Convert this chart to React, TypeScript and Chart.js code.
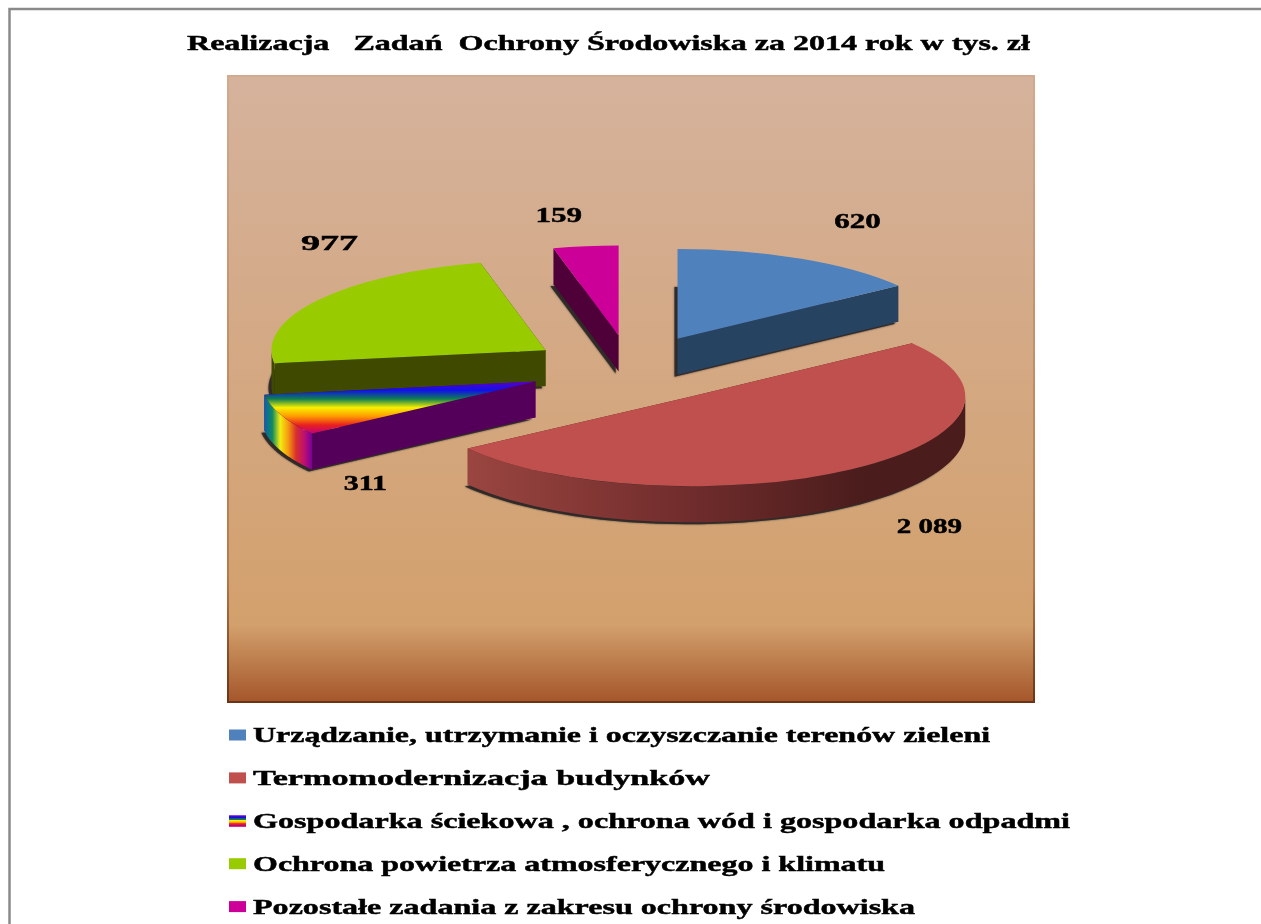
import React, { useEffect, useRef } from "react";
import { Chart, registerables } from "chart.js";

Chart.register(...registerables);

const titleText = "Realizacja   Zadań  Ochrony Środowiska za 2014 rok w tys. zł";
const categories = [
  "Urządzanie, utrzymanie i oczyszczanie terenów zieleni",
  "Termomodernizacja budynków",
  "Gospodarka ściekowa , ochrona wód i gospodarka odpadmi",
  "Ochrona powietrza atmosferycznego i klimatu",
  "Pozostałe zadania z zakresu ochrony środowiska",
];
const values = [620, 2089, 311, 977, 159];
const valueLabels = ["620", "2 089", "311", "977", "159"];
const topColors = ["#4f81bd", "#c0504d", "rainbow", "#99cc00", "#cc0099"];
const sideColors = ["#274362", "#5a2220", "#54005a", "#3f4a00", "#4f0038"];
const rainbowStops = ["#5a00c8", "#1010e8", "#0f7f50", "#f8f000", "#ff9a00", "#e8201e", "#c0007a"];

const FONT = '"Liberation Serif", serif';
const PIE_RADIUS = 274;
const SQUASH = 0.328;
const EXPLODE = 103;
const DEPTH = 36;
const PIE_CX = 631;
const PIE_CY = 369;
const DRAW_ORDER = [4, 0, 3, 2, 1];
const LABEL_NUDGE = [[180, -118], [238, 130], [-170, 101], [-216, -107], [-60, -120]];
const LABEL_STRETCH = [1.55, 1.45, 1.5, 1.9, 1.55];
const LEGEND_WIDTHS = [737, 457, 817, 632, 662];

const apexOf = (arc: any) => {
  const mid = (arc.startAngle + arc.endAngle) / 2;
  return { x: PIE_CX + Math.cos(mid) * EXPLODE, y: PIE_CY + Math.sin(mid) * EXPLODE * SQUASH, mid };
};
const edge = (apex: any, a: number, dy = 0) => ({
  x: apex.x + Math.cos(a) * PIE_RADIUS,
  y: apex.y + Math.sin(a) * PIE_RADIUS * SQUASH + dy,
});

function slicePath(ctx: CanvasRenderingContext2D, apex: any, a0: number, a1: number, dx: number, dy: number) {
  ctx.beginPath();
  ctx.moveTo(apex.x + dx, apex.y + dy);
  for (let i = 0; i <= 60; i++) {
    const p = edge(apex, a0 + ((a1 - a0) * i) / 60, dy);
    ctx.lineTo(p.x + dx, p.y);
  }
  ctx.closePath();
}

function drawWalls(ctx: CanvasRenderingContext2D, arc: any, i: number) {
  const apex = apexOf(arc);
  const a0 = arc.startAngle;
  const a1 = arc.endAngle;
  // contact shadow
  ctx.save();
  ctx.shadowColor = "rgba(20,20,20,0.85)";
  ctx.shadowBlur = 2;
  ctx.fillStyle = "rgba(45,40,40,0.9)";
  slicePath(ctx, apex, a0, a1, -3, DEPTH + 2);
  ctx.fill();
  ctx.restore();
  // radial side faces
  ctx.fillStyle = sideColors[i];
  [a0, a1].forEach((a) => {
    const p = edge(apex, a);
    ctx.beginPath();
    ctx.moveTo(apex.x, apex.y);
    ctx.lineTo(p.x, p.y);
    ctx.lineTo(p.x, p.y + DEPTH);
    ctx.lineTo(apex.x, apex.y + DEPTH);
    ctx.closePath();
    ctx.fill();
  });
  // curved outer wall
  const lo = Math.max(a0, 0);
  const hi = Math.min(a1, Math.PI);
  if (hi > lo) {
    const left = edge(apex, hi).x;
    const right = edge(apex, lo).x;
    const g = ctx.createLinearGradient(left, 0, right, 0);
    if (i === 2) {
      ["#0b5fb0", "#0f8a60", "#f4ee10", "#f59a10", "#d8302a", "#c01070", "#7a009a"].forEach((c, n) =>
        g.addColorStop(n / 6, c)
      );
    } else if (i === 1) {
      g.addColorStop(0, "#9a4540");
      g.addColorStop(0.45, "#702c2c");
      g.addColorStop(0.8, "#4a1c1c");
      g.addColorStop(1, "#4a1c1c");
    } else {
      g.addColorStop(0, sideColors[i]);
      g.addColorStop(1, sideColors[i]);
    }
    ctx.fillStyle = g;
    ctx.beginPath();
    for (let n = 0; n <= 80; n++) {
      const p = edge(apex, lo + ((hi - lo) * n) / 80);
      if (n === 0) ctx.moveTo(p.x, p.y);
      else ctx.lineTo(p.x, p.y);
    }
    for (let n = 80; n >= 0; n--) {
      const p = edge(apex, lo + ((hi - lo) * n) / 80, DEPTH);
      ctx.lineTo(p.x, p.y);
    }
    ctx.closePath();
    ctx.fill();
  }
}

function stretchedText(ctx: CanvasRenderingContext2D, text: string, x: number, y: number, sx: number, align: string) {
  ctx.save();
  ctx.translate(x, y);
  ctx.scale(sx, 1);
  ctx.textAlign = align as CanvasTextAlign;
  ctx.textBaseline = "alphabetic";
  ctx.strokeStyle = "#000000";
  ctx.lineWidth = 0.45;
  ctx.fillText(text, 0, 0);
  ctx.strokeText(text, 0, 0);
  ctx.restore();
}

const backdrop = {
  id: "backdrop",
  beforeDraw(chart: any) {
    const { ctx, chartArea: a, width, height } = chart;
    ctx.save();
    ctx.fillStyle = "#ffffff";
    ctx.fillRect(0, 0, width, height);
    ctx.strokeStyle = "#8a8a8a";
    ctx.lineWidth = 2.5;
    ctx.beginPath();
    ctx.moveTo(9.5, height + 5);
    ctx.lineTo(9.5, 9);
    ctx.lineTo(width + 5, 9);
    ctx.stroke();
    const h = a.bottom - a.top;
    const g = ctx.createLinearGradient(0, a.top, 0, a.bottom);
    g.addColorStop(0, "#d5b29c");
    g.addColorStop((625 - a.top) / h, "#d2a06c");
    g.addColorStop(1, "#a5562a");
    ctx.fillStyle = g;
    ctx.fillRect(a.left, a.top, a.right - a.left, h);
    const b = ctx.createLinearGradient(0, a.top, 0, a.bottom);
    b.addColorStop(0, "#d2aa90");
    b.addColorStop(0.8, "#b8784a");
    b.addColorStop(1, "#6a3416");
    ctx.strokeStyle = b;
    ctx.lineWidth = 2;
    ctx.strokeRect(a.left, a.top, a.right - a.left, h);
    ctx.restore();
  },
};

const pie3d = {
  id: "pie3d",
  beforeDatasetDraw(chart: any, args: any) {
    const { ctx } = chart;
    const arcs = args.meta.data;
    DRAW_ORDER.forEach((i) => {
      const arc = arcs[i];
      drawWalls(ctx, arc, i);
      const mid = (arc.startAngle + arc.endAngle) / 2;
      ctx.save();
      ctx.translate(PIE_CX, PIE_CY);
      ctx.scale(1, SQUASH);
      ctx.translate(-arc.x, -arc.y);
      ctx.translate(Math.cos(mid) * EXPLODE, Math.sin(mid) * EXPLODE);
      arc.draw(ctx);
      ctx.restore();
    });
    return false;
  },
};

const annotations = {
  id: "annotations",
  afterDraw(chart: any) {
    const { ctx } = chart;
    const arcs = chart.getDatasetMeta(0).data;
    ctx.save();
    ctx.fillStyle = "#000000";
    // title
    ctx.font = `bold 21px ${FONT}`;
    const natural = ctx.measureText(titleText).width;
    stretchedText(ctx, titleText, 187, 50, 843 / natural, "left");
    // value labels
    ctx.font = `bold 20px ${FONT}`;
    valueLabels.forEach((t, i) => {
      const apex = apexOf(arcs[i]);
      stretchedText(ctx, t, apex.x + LABEL_NUDGE[i][0], apex.y + LABEL_NUDGE[i][1] + 7, LABEL_STRETCH[i], "center");
    });
    // legend
    ctx.font = `bold 22px ${FONT}`;
    categories.forEach((t, i) => {
      const sx = LEGEND_WIDTHS[i] / ctx.measureText(t).width;
      const cy = 735 + i * 42.9;
      if (topColors[i] === "rainbow") {
        const n = rainbowStops.length;
        rainbowStops.forEach((c, k) => {
          ctx.fillStyle = c;
          ctx.fillRect(229, cy - 5.5 + (k * 11) / n, 17, 11 / n + 0.5);
        });
      } else {
        ctx.fillStyle = topColors[i];
        ctx.fillRect(229, cy - 5.5, 17, 11);
      }
      ctx.fillStyle = "#000000";
      stretchedText(ctx, t, 253, cy + 7, sx, "left");
    });
    ctx.restore();
  },
};

export default function App() {
  const ref = useRef<HTMLCanvasElement>(null);
  useEffect(() => {
    document.body.style.margin = "0";
    const chart = new Chart(ref.current as HTMLCanvasElement, {
      type: "pie",
      data: {
        labels: categories,
        datasets: [
          {
            data: values,
            radius: PIE_RADIUS,
            borderWidth: 0,
            backgroundColor: (c: any) => {
              const col = topColors[c.dataIndex];
              if (col !== "rainbow") return col;
              const area = c.chart.chartArea;
              if (!area) return "#f8f000";
              const y0 = (area.top + area.bottom) / 2;
              const g = c.chart.ctx.createLinearGradient(0, y0, 0, y0 + PIE_RADIUS * 0.58);
              rainbowStops.forEach((s, n) => g.addColorStop(n / (rainbowStops.length - 1), s));
              return g;
            },
          } as any,
        ],
      },
      options: {
        responsive: false,
        animation: false,
        events: [],
        layout: { padding: { left: 228, right: 227, top: 76, bottom: 222 } },
        plugins: { legend: { display: false }, title: { display: false }, tooltip: { enabled: false } },
      },
      plugins: [backdrop, pie3d, annotations],
    });
    return () => chart.destroy();
  }, []);
  return (
    <canvas
      ref={ref}
      width={1261}
      height={924}
      style={{ display: "block", width: 1261, height: 924, filter: "blur(0.45px)" }}
    />
  );
}
